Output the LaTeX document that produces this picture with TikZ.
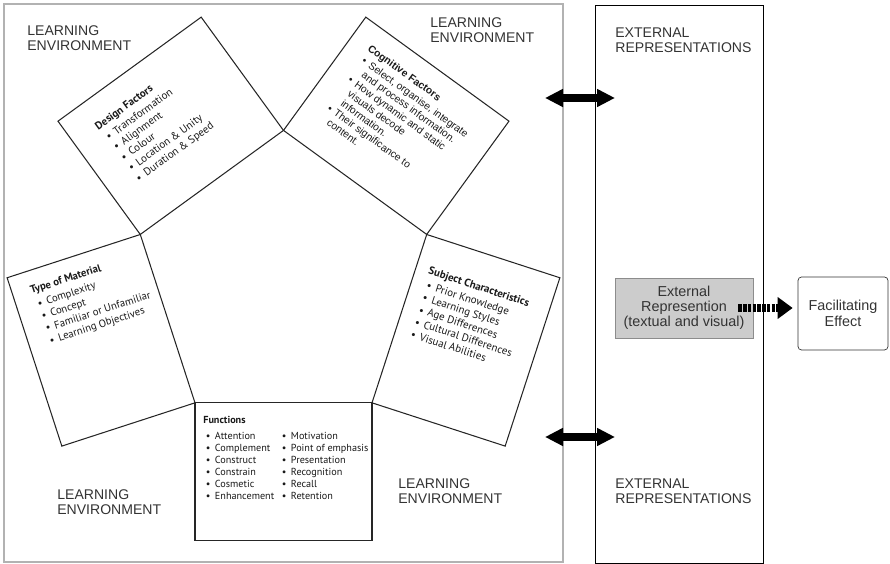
\documentclass[tikz,border=0pt]{standalone}
\usepackage{fontspec}
\setmainfont{Liberation Sans}
\newfontfamily\myriadfont{PT Sans}
\usetikzlibrary{arrows.meta}

\newcommand\fitem{\hspace*{1.5pt}\textbullet\hspace{2.5pt}}

\tikzset{
  envlabel/.style={anchor=north west, inner sep=0pt, align=left, text=black!80,
    font=\fontsize{8}{8.6}\selectfont},
  factorbox/.style={draw=black!85, line width=0.6pt},
  factortext/.style={anchor=north west, inner sep=0pt, align=left, text=black!90,
    font=\myriadfont\fontsize{6.2}{7.3}\selectfont},
  cogtext/.style={factortext, font=\fontsize{5.9}{6.7}\selectfont},
  dblarrow/.style={line width=4pt,
    {Triangle[length=0.36cm,width=0.34cm]}-{Triangle[length=0.36cm,width=0.34cm]}},
  dasharrow/.style={line width=4.5pt, dash pattern=on 0.07cm off 0.025cm,
    -{Triangle[length=0.3cm,width=0.42cm]}},
}

\begin{document}
\begin{tikzpicture}[x=0.02cm, y=0.02cm]
\useasboundingbox (0,0) rectangle (890,564);

\draw[gray!60, line width=0.7pt] (4,2) rectangle (563,560);
\draw[line width=0.55pt] (595,1) rectangle (763,559);

% corners of the pentagon
\foreach \a [count=\i] in {90,162,234,306,18}
  \coordinate (p\i) at ([shift={(283.5,283)}]\a:150.6);

\begin{scope}[shift={(p2)}, rotate=36]
  \draw[factorbox] (0,0) rectangle (177,140);
  \node[factortext, rotate=36] (design) at (27,117) {{\bfseries Design Factors}\\[1pt]
    \fitem Transformation\\ \fitem Alignment\\ \fitem Colour\\
    \fitem Location \& Unity\\ \fitem Duration \& Speed};
\end{scope}

\begin{scope}[shift={(p1)}, rotate=-36]
  \draw[factorbox] (0,0) rectangle (177,140);
  \node[cogtext, rotate=-36] (cognitive) at (20,122) {{\bfseries Cognitive Factors}\\[1pt]
    \fitem Select, organise, integrate\\ \phantom{\fitem}and process information.\\
    \fitem How dynamic and static\\ \phantom{\fitem}visuals decode\\ \phantom{\fitem}information.\\
    \fitem Their significance to\\ \phantom{\fitem}content.};
\end{scope}

\begin{scope}[shift={(p3)}, rotate=18]
  \draw[factorbox] (-140,0) rectangle (0,177);
  \node[factortext, rotate=18, font=\myriadfont\fontsize{6.1}{7.4}\selectfont] (material)
    at (-122,162) {{\bfseries Type of Material}\\[1pt]
    \fitem Complexity\\ \fitem Concept\\ \fitem Familiar or Unfamiliar\\
    \fitem Learning Objectives};
\end{scope}

\begin{scope}[shift={(p4)}, rotate=-18]
  \draw[factorbox] (0,0) rectangle (140,177);
  \node[factortext, rotate=-18] (subject) at (13,148) {{\bfseries Subject Characteristics}\\[1pt]
    \fitem Prior Knowledge\\ \fitem Learning Styles\\ \fitem Age Differences\\
    \fitem Cultural Differences\\ \fitem Visual Abilities};
\end{scope}

\begin{scope}[shift={(p3)}]
  \draw[factorbox] (0,0) rectangle (177,-138);
  \node[factortext, font=\myriadfont\fontsize{5.8}{6.9}\selectfont] (functions) at (8,-13)
    {{\bfseries Functions}\\[3pt]
    \begin{tabular}{@{}p{1.52cm}@{}l@{}}
    \fitem Attention & \fitem Motivation\\
    \fitem Complement & \fitem Point of emphasis\\
    \fitem Construct & \fitem Presentation\\
    \fitem Constrain & \fitem Recognition\\
    \fitem Cosmetic & \fitem Recall\\
    \fitem Enhancement & \fitem Retention
    \end{tabular}};
\end{scope}

\node[envlabel] (env1) at (27,539) {LEARNING\\ENVIRONMENT};
\node[envlabel] (env2) at (430,547) {LEARNING\\ENVIRONMENT};
\node[envlabel] (env3) at (57,75) {LEARNING\\ENVIRONMENT};
\node[envlabel] (env4) at (398,86) {LEARNING\\ENVIRONMENT};
\node[envlabel] (ext1) at (615,537) {EXTERNAL\\REPRESENTATIONS};
\node[envlabel] (ext2) at (615,86) {EXTERNAL\\REPRESENTATIONS};

\coordinate (ua1) at (545,466);
\coordinate (ua2) at (615,466);
\coordinate (la1) at (545,127);
\coordinate (la2) at (615,127);
\draw[dblarrow] (ua1) -- (ua2);
\draw[dblarrow] (la1) -- (la2);

\node[fill=black!20, draw=black!45, minimum width=2.76cm, minimum height=1.2cm,
  align=center, text=black!80, font=\fontsize{8.2}{8.6}\selectfont] (extrep) at (684,256)
  {External\\Represention\\(textual and visual)};
\node[draw=black!80, rounded corners=2pt, minimum width=1.8cm, minimum height=1.46cm,
  align=center, text=black!80, font=\fontsize{8.2}{8.8}\selectfont] (effect) at (843,250.5)
  {Facilitating\\Effect};
\draw[dasharrow, shorten >=0.1cm] ([xshift=-0.3cm]extrep.east) -- (effect.west |- extrep.east);

\end{tikzpicture}
\end{document}
